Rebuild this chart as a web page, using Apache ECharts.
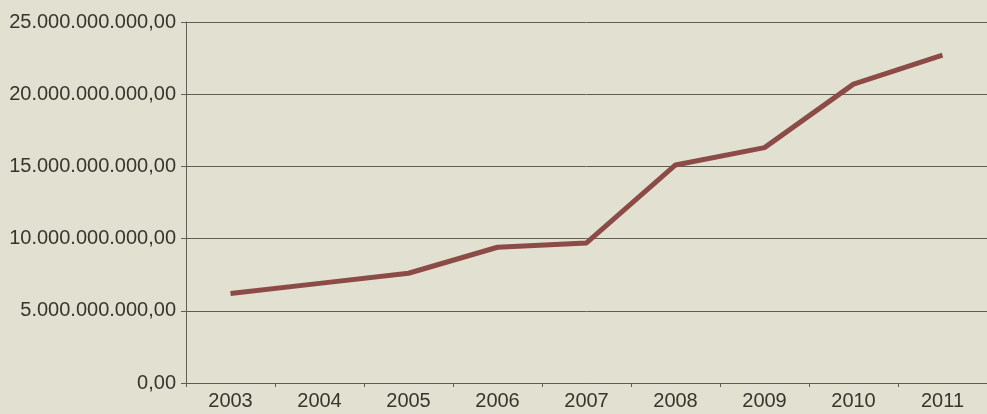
<!DOCTYPE html>
<html>
<head>
<meta charset="utf-8">
<script src="https://cdn.jsdelivr.net/npm/echarts@6/dist/echarts.min.js"></script>
<style>
html,body{margin:0;padding:0;background:#e2e0d0;}
#c{width:987px;height:414px;}
</style>
</head>
<body>
<div id="c"></div>
<script>
const years = ['2003','2004','2005','2006','2007','2008','2009','2010','2011'];
const values = [6.2e9, 6.9e9, 7.6e9, 9.4e9, 9.7e9, 15.1e9, 16.3e9, 20.7e9, 22.7e9];
const yTicks = [0, 5e9, 10e9, 15e9, 20e9, 25e9];

function fmt(v){
  const s = Math.round(v).toString().replace(/\B(?=(\d{3})+(?!\d))/g,'.');
  return s + ',00';
}

const chart = echarts.init(document.getElementById('c'), null, {renderer:'canvas'});
chart.setOption({
  backgroundColor:'#e2e0d0',
  animation:false,
  grid:{left:186, top:22, width:810, height:361, containLabel:false},
  xAxis:{
    type:'category',
    data:years,
    boundaryGap:true,
    axisLine:{lineStyle:{color:'#5e5e55',width:1}},
    axisTick:{show:true,length:4,lineStyle:{color:'#5e5e55'}},
    axisLabel:{color:'#36362f',fontSize:20,fontFamily:'Liberation Sans, Arial, sans-serif',margin:8}
  },
  yAxis:{
    type:'value',
    min:yTicks[0],
    max:yTicks[yTicks.length-1],
    interval:5e9,
    axisLine:{show:true,lineStyle:{color:'#5e5e55',width:1}},
    axisTick:{show:true,length:5,lineStyle:{color:'#5e5e55'}},
    splitLine:{show:true,lineStyle:{color:'#5e5e55',width:1}},
    axisLabel:{color:'#36362f',fontSize:20,fontFamily:'Liberation Sans, Arial, sans-serif',margin:10,formatter:fmt}
  },
  series:[{
    type:'line',
    data:values,
    symbol:'none',
    lineStyle:{color:'#8c4b47',width:5}
  }]
});
</script>
</body>
</html>
